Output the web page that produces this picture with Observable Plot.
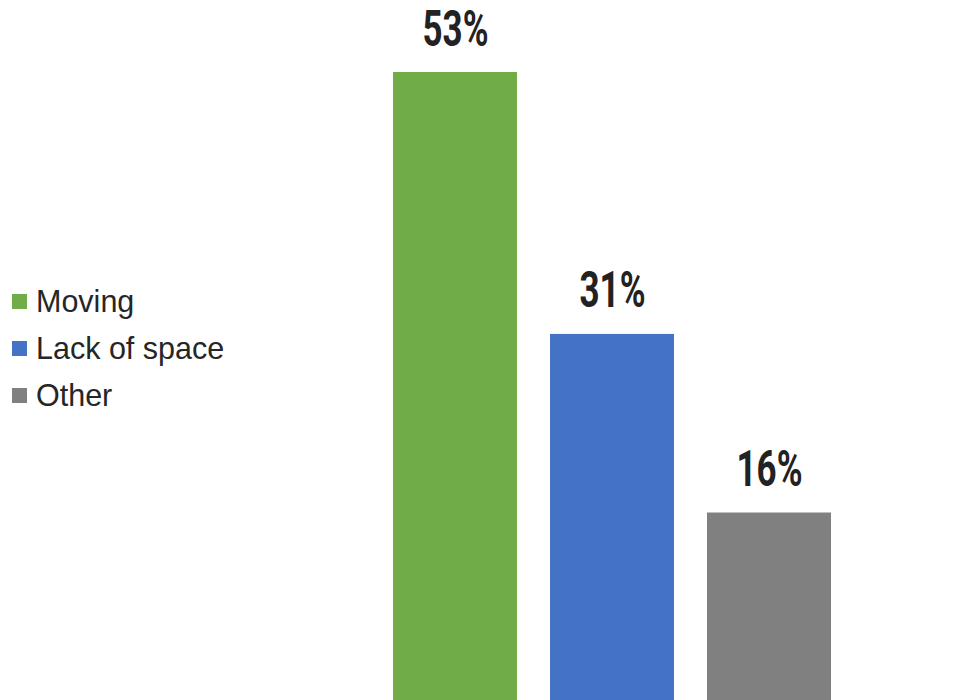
<!DOCTYPE html>
<html>
<head>
<meta charset="utf-8">
<script src="https://cdn.jsdelivr.net/npm/d3@7"></script>
<script src="https://cdn.jsdelivr.net/npm/@observablehq/plot@0.6"></script>
<style>
  html, body { margin: 0; padding: 0; background: #fff; }
  #wrap { position: relative; width: 957px; height: 700px; overflow: hidden; }
  #legend { position: absolute; left: 12px; top: 278px; font-family: "Liberation Sans", Arial, sans-serif; font-size: 30.5px; color: #262626; }
  .item { display: flex; align-items: center; height: 47px; }
  .sw { width: 15px; height: 15px; margin-right: 9px; }
</style>
</head>
<body>
<div id="wrap"><div id="legend"></div></div>
<script>
const categories = ["Moving", "Lack of space", "Other"];
const values = [53, 31, 16];
const labels = ["53%", "31%", "16%"];
const colors = ["#70AD47", "#4472C4", "#808080"];

const data = categories.map((c, i) => ({category: c, value: values[i], label: labels[i]}));

const chart = Plot.plot({
  width: 957,
  height: 700,
  marginLeft: 376.5,
  marginRight: 109.5,
  marginTop: 72,
  marginBottom: 0,
  x: {domain: categories, paddingInner: 33 / 157, paddingOuter: 16.5 / 157, axis: null},
  y: {domain: [0, 53], range: [703, 72], axis: null},
  color: {domain: categories, range: colors},
  marks: [
    Plot.barY(data, {x: "category", y: "value", fill: "category"}),
    Plot.text(data, {
      x: "category", y: "value", text: "label",
      dy: -27, lineAnchor: "bottom",
      fill: "#222222",
      fontSize: 50, fontWeight: "bold",
      fontFamily: "Roboto, sans-serif",
      className: "vlabel"
    })
  ]
});
chart.style.position = "absolute";
chart.style.left = "0px";
chart.style.top = "0px";
document.getElementById("wrap").prepend(chart);

// condense the value labels horizontally
chart.querySelectorAll("text").forEach(t => {
  const tr = t.getAttribute("transform");
  if (tr && /translate/.test(tr)) {
    t.setAttribute("transform", tr + " scale(0.7,1)");
  } else {
    const x = +t.getAttribute("x") || 0;
    t.setAttribute("transform", `translate(${x},0) scale(0.7,1) translate(${-x},0)`);
  }
});

const legend = document.getElementById("legend");
categories.forEach((c, i) => {
  const row = document.createElement("div");
  row.className = "item";
  const sw = document.createElement("span");
  sw.className = "sw";
  sw.style.background = colors[i];
  const t = document.createElement("span");
  t.textContent = c;
  row.append(sw, t);
  legend.append(row);
});
</script>
</body>
</html>
